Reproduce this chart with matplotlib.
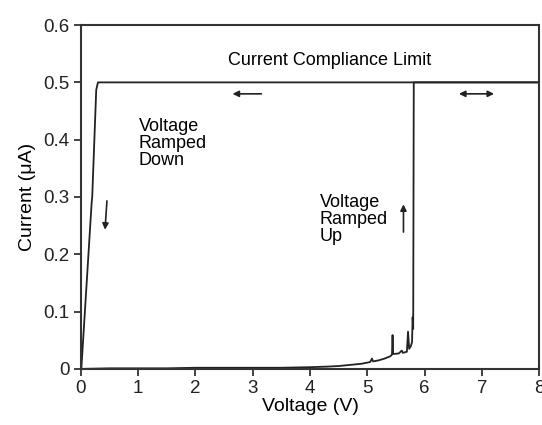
import matplotlib
matplotlib.use("Agg")
import matplotlib.pyplot as plt

plt.rcParams["font.family"] = ["Liberation Sans", "DejaVu Sans"]

# voltage ramped up (V, uA)
up_v = [0.0, 0.5, 1.0, 1.5, 2.0, 2.5, 3.0, 3.5, 4.0, 4.3, 4.5, 4.7, 4.9, 5.0,
        5.05, 5.08, 5.1, 5.2, 5.3, 5.4, 5.43, 5.44, 5.45, 5.55, 5.6, 5.62,
        5.69, 5.71, 5.73, 5.76, 5.78, 5.79, 5.80, 5.81, 8.0]
up_i = [0.0, 0.001, 0.001, 0.001, 0.002, 0.002, 0.002, 0.002, 0.003, 0.004,
        0.005, 0.007, 0.009, 0.011, 0.012, 0.018, 0.013, 0.015, 0.018, 0.022,
        0.025, 0.059, 0.026, 0.027, 0.032, 0.028, 0.030, 0.065, 0.035, 0.040,
        0.047, 0.090, 0.070, 0.5, 0.5]

# voltage ramped down
down_v = [8.0, 0.30, 0.27, 0.20, 0.19, 0.01]
down_i = [0.5, 0.5, 0.487, 0.30, 0.29, 0.0]

fig = plt.figure(figsize=(5.42, 4.25), dpi=100)
ax = fig.add_axes([0.149, 0.132, 0.846, 0.809])

col = "#222222"
ax.plot(up_v, up_i, color=col, linewidth=1.3)
ax.plot(down_v, down_i, color=col, linewidth=1.3)

ax.set_xlim(0, 8)
ax.set_ylim(0, 0.6)
ax.set_xticks(range(0, 9))
ax.set_yticks([0, 0.1, 0.2, 0.3, 0.4, 0.5, 0.6])
ax.set_yticklabels(["0", "0.1", "0.2", "0.3", "0.4", "0.5", "0.6"])
ax.tick_params(direction="out", length=5, width=1.2, labelsize=13.5,
               colors="#222222", pad=3)
for s in ax.spines.values():
    s.set_linewidth(1.5)
    s.set_color("#333333")

ax.set_xlabel("Voltage (V)", fontsize=14, labelpad=1)
ax.set_ylabel("Current (\u03bcA)", fontsize=14, labelpad=5)

ax.text(4.34, 0.539, "Current Compliance Limit", fontsize=13, ha="center", va="center")
ax.text(1.01, 0.438, "Voltage\nRamped\nDown", fontsize=13, ha="left", va="top",
        linespacing=1.02)
ax.text(4.17, 0.306, "Voltage\nRamped\nUp", fontsize=13, ha="left", va="top",
        linespacing=1.02)

arr = dict(arrowstyle="-|>", color=col, lw=1.2, mutation_scale=9)
ax.annotate("", xy=(2.6, 0.48), xytext=(3.2, 0.48), arrowprops=arr)
ax.annotate("", xy=(0.42, 0.238), xytext=(0.46, 0.298), arrowprops=arr)
ax.annotate("", xy=(5.63, 0.292), xytext=(5.63, 0.234), arrowprops=arr)
ax.annotate("", xy=(6.55, 0.48), xytext=(7.26, 0.48),
            arrowprops=dict(arrowstyle="<|-|>", color=col, lw=1.2, mutation_scale=9))

fig.savefig("out.png", dpi=100)
